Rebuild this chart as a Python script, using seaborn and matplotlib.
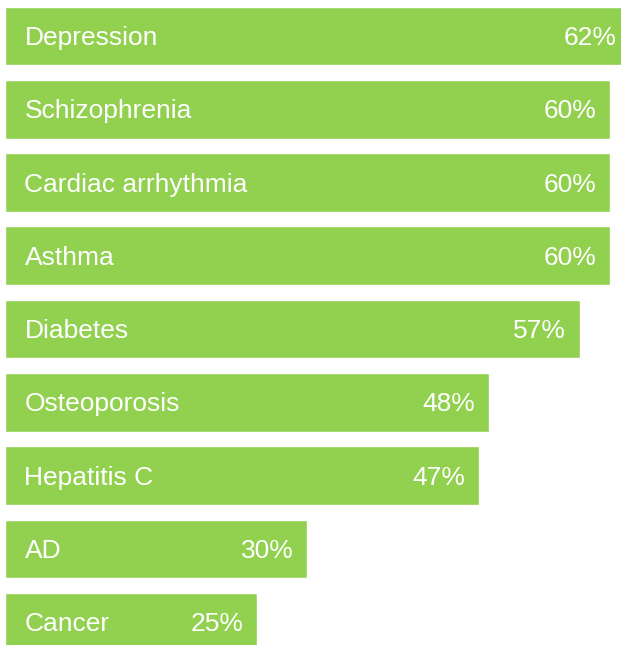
import matplotlib
matplotlib.use("Agg")
import matplotlib.pyplot as plt
import seaborn as sns
import pandas as pd

# Share of patients (%) per condition
conditions = ["Depression", "Schizophrenia", "Cardiac arrhythmia", "Asthma",
              "Diabetes", "Osteoporosis", "Hepatitis C", "AD", "Cancer"]
values = [62, 60, 60, 60, 57, 48, 47, 30, 25]

df = pd.DataFrame({"condition": conditions, "value": values})

sns.set_theme(style="white")
plt.rcParams["font.family"] = ["Liberation Sans", "DejaVu Sans"]

fig = plt.figure(figsize=(6.21, 6.45), dpi=100)
ax = fig.add_axes([0, 0, 1, 1])

sns.barplot(data=df, y="condition", x="value", orient="h", color="#92D050",
            saturation=1, width=0.8, ax=ax)

# axis limits chosen so that the picture edges line up with the bars
ax.set_xlim(-0.5, 61.1)
ax.set_ylim(8.31, -0.49)
ax.axis("off")

for i, (name, v) in enumerate(zip(conditions, values)):
    ax.annotate(name, (0, i), xytext=(14, -1.5), textcoords="offset points",
                ha="left", va="center", color="white", fontsize=19)
    ax.annotate(f"{v}%", (v, i), xytext=(-10, -1.5), textcoords="offset points",
                ha="right", va="center", color="white", fontsize=19,
                annotation_clip=False)

fig.savefig("out.png", dpi=100)
